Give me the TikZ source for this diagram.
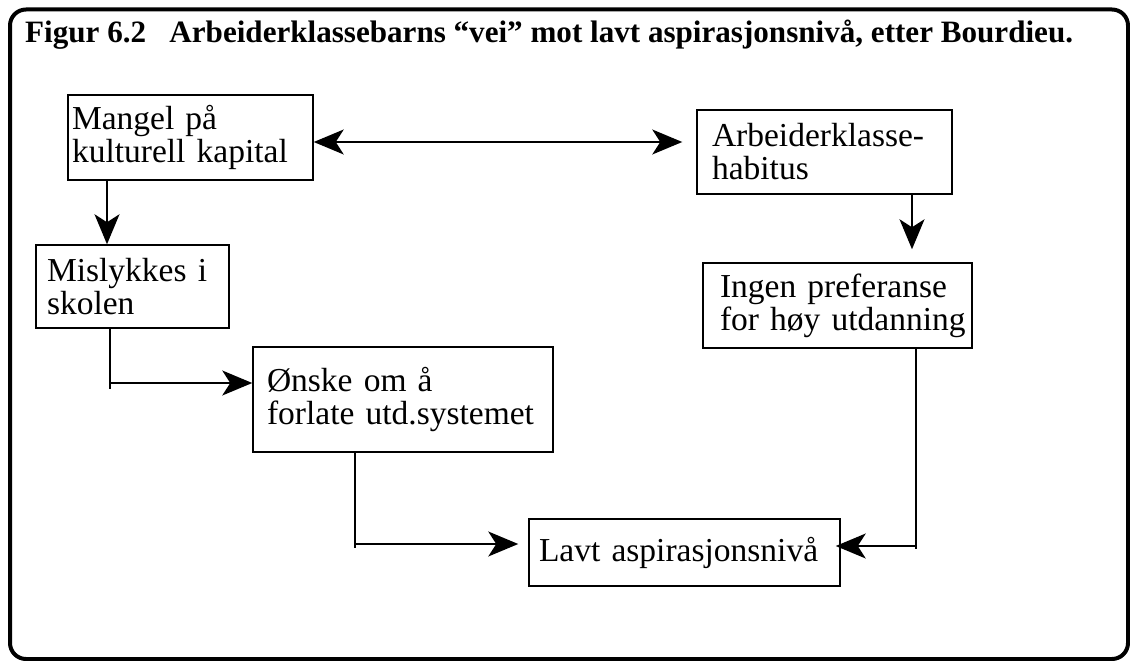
\documentclass[tikz,border=0pt]{standalone}
\usepackage{fontspec}
\setmainfont{Liberation Serif}
\usetikzlibrary{arrows.meta,calc}
\tikzset{
  tip/.tip={Stealth[length=30pt,width=25pt,inset=8pt]},
}
\begin{document}
\begin{tikzpicture}[x=1pt,y=-1pt,
  box/.style={draw,line width=1.5pt,rectangle,inner ysep=0pt,align=left,
    font=\fontsize{33.5}{33}\selectfont},
  link/.style={line width=1.4pt,-tip},
  duallink/.style={line width=1.4pt,tip-tip},
]
\useasboundingbox (0,0) rectangle (1130,661);
% outer frame
\draw[line width=4pt,rounded corners=16pt] (10,9.5) rectangle (1128,659);

% caption
\node[anchor=base west,inner sep=0pt,font=\fontsize{31.1}{32}\selectfont\bfseries] (title) at (25,43)
  {Figur 6.2\hskip0.75em Arbeiderklassebarns “vei” mot lavt aspirasjonsnivå, etter Bourdieu.};

% boxes
\node[box,text width=237pt,inner xsep=4pt,minimum height=85pt] (mangel) at (190.5,137.5)
  {\mbox{Mangel på}\\\mbox{kulturell kapital}};
\node[box,text width=225pt,inner xsep=15pt,minimum height=84pt] (arb) at (824.5,152)
  {\mbox{Arbeiderklasse-}\\\mbox{habitus}};
\node[box,text width=171pt,inner xsep=11pt,minimum height=83pt] (misl) at (132.5,286.5)
  {\mbox{Mislykkes i}\\\mbox{skolen}};
\node[box,text width=235pt,inner xsep=17pt,minimum height=85pt] (ingen) at (837.5,305.5)
  {\mbox{Ingen preferanse}\\\mbox{for høy utdanning}};
\node[box,text width=272pt,inner xsep=14pt,minimum height=105pt] (onske) at (403,399.5)
  {\mbox{Ønske om å}\\\mbox{forlate utd.systemet}};
\node[box,text width=291pt,inner xsep=10pt,minimum height=67pt] (lavt) at (684.5,552.5)
  {\mbox{Lavt aspirasjonsnivå}};

% connectors
\draw[duallink,shorten >=14pt] (mangel.east |- 0,142) -- (arb.west |- 0,142);
\draw[link] (mangel.south -| 107,0) -- (misl.north -| 107,0);
\draw[link,shorten >=13pt] (arb.south -| 912,0) -- (ingen.north -| 912,0);
\draw[link] (misl.south -| 110,0) -- (110,389) (110,383) -- (onske.west |- 0,383);
\draw[link,shorten >=10pt] (onske.south -| 355,0) -- (355,548) (355,544) -- (lavt.west |- 0,544);
\draw[link,shorten >=-5pt] (ingen.south -| 916,0) -- (916,549) (916,546) -- (lavt.east |- 0,546);
\end{tikzpicture}
\end{document}
